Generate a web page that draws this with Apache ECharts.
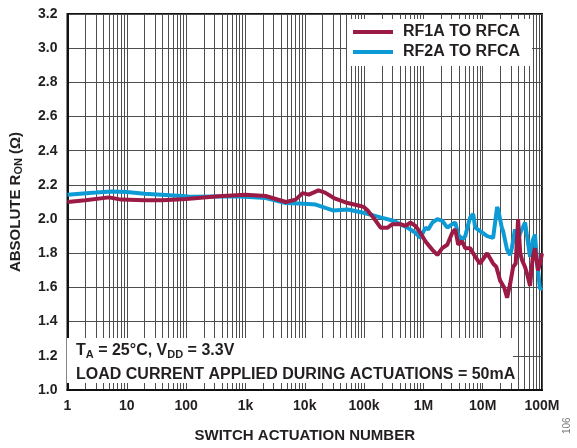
<!DOCTYPE html>
<html>
<head>
<meta charset="utf-8">
<script src="https://cdn.jsdelivr.net/npm/echarts@6/dist/echarts.min.js"></script>
<style>
html,body{margin:0;padding:0;background:#fff;}
#chart{width:577px;height:448px;}
</style>
</head>
<body>
<div id="chart"></div>
<script>
// ---- data ----
const xTickLabels = ['1', '10', '100', '1k', '10k', '100k', '1M', '10M', '100M'];
const seriesNames = ['RF1A TO RFCA', 'RF2A TO RFCA'];

const rf1Actuations = [1, 2, 5, 8, 20, 40, 100, 350, 1000, 2200, 4800, 7000, 9200, 11700, 17000, 22000, 31000, 53000, 87000, 100000, 115000, 150000, 190000, 250000, 300000, 410000, 500000, 600000, 734000, 890000, 1080000, 1420000, 1720000, 2080000, 2530000, 3070000, 3450000, 3870000, 4500000, 5080000, 6170000, 7480000, 9000000, 11900000, 15000000, 17000000, 19700000, 23000000, 25800000, 29000000, 32600000, 36000000, 39500000, 43000000, 46100000, 51800000, 56000000, 62900000, 70000000, 76200000, 85700000, 92500000, 100000000];
const rf1Ron = [2.10, 2.11, 2.127, 2.114, 2.11, 2.11, 2.117, 2.133, 2.143, 2.135, 2.10, 2.114, 2.152, 2.143, 2.168, 2.155, 2.123, 2.094, 2.077, 2.07, 2.05, 2.0, 1.95, 1.95, 1.97, 1.97, 1.96, 1.98, 1.96, 1.92, 1.87, 1.82, 1.79, 1.83, 1.85, 1.92, 1.94, 1.85, 1.87, 1.83, 1.83, 1.78, 1.74, 1.80, 1.74, 1.72, 1.64, 1.60, 1.54, 1.62, 1.72, 1.74, 2.0, 1.80, 1.76, 1.72, 1.68, 1.61, 1.78, 1.83, 1.70, 1.74, 1.80];

const rf2Actuations = [1, 3, 5.5, 10, 20, 100, 120, 700, 2200, 4800, 10000, 15300, 30700, 52800, 97800, 189000, 313000, 538000, 734000, 891000, 1080000, 1210000, 1420000, 1720000, 2080000, 2530000, 3070000, 3450000, 3870000, 4520000, 5080000, 5700000, 6170000, 6920000, 7480000, 9080000, 11900000, 15000000, 17500000, 18200000, 21000000, 22100000, 25800000, 29000000, 31000000, 35000000, 38000000, 42000000, 51800000, 55000000, 62900000, 69000000, 76200000, 82000000, 85700000, 92500000, 100000000];
const rf2Ron = [2.143, 2.155, 2.162, 2.158, 2.148, 2.133, 2.13, 2.133, 2.123, 2.094, 2.09, 2.085, 2.05, 2.056, 2.037, 2.01, 1.99, 1.95, 1.92, 1.89, 1.95, 1.94, 1.98, 2.0, 1.99, 1.95, 1.97, 1.98, 1.91, 1.88, 1.90, 1.97, 2.01, 2.03, 1.95, 1.93, 1.90, 1.89, 2.07, 2.056, 1.95, 1.93, 1.82, 1.79, 1.83, 1.94, 1.85, 1.91, 1.98, 1.97, 1.78, 1.87, 1.91, 1.76, 1.70, 1.59, 1.60];

// minor log gridlines (2..9 x 10^k)
const minorGrid = [];
for (let k = 0; k < 8; k++) for (let m = 2; m <= 9; m++) minorGrid.push(m * Math.pow(10, k));

const textColor = '#231f20';
const gridColor = '#4d4d4d';
const red = '#9b1b45';
const blue = '#0d9bd6';

const chart = echarts.init(document.getElementById('chart'), null, {renderer: 'canvas'});
chart.setOption({
  animation: false,
  textStyle: {fontFamily: 'Liberation Sans, Arial, sans-serif'},
  grid: {left: 66, right: 35, top: 14, bottom: 54, show: true, borderColor: '#111', borderWidth: 2},
  legend: {
    data: seriesNames,
    orient: 'vertical',
    left: 347, top: 19, z: 6,
    backgroundColor: '#fff',
    padding: [5, 12, 6, 6],
    itemGap: 4,
    itemWidth: 40, itemHeight: 4,
    icon: 'rect',
    textStyle: {fontSize: 16, fontWeight: 'bold', color: textColor, lineHeight: 16, padding: [0, 0, 0, 5]}
  },
  xAxis: {
    type: 'log', logBase: 10, min: 1, max: 1e8,
    name: 'SWITCH ACTUATION NUMBER', nameLocation: 'middle', nameGap: 38,
    nameTextStyle: {fontSize: 15, fontWeight: 'bold', color: textColor},
    axisLine: {show: true, lineStyle: {color: '#111', width: 2}},
    axisTick: {show: false},
    axisLabel: {fontSize: 14, fontWeight: 'bold', color: textColor, margin: 9,
      formatter: v => xTickLabels[Math.round(Math.log10(v))]},
    splitLine: {show: true, lineStyle: {color: gridColor, width: 1}},
    minorTick: {show: false}, minorSplitLine: {show: false}
  },
  yAxis: {
    type: 'value', min: 1.0, max: 3.2, interval: 0.2,
    name: '{n|ABSOLUTE R}{s|ON}{n| (Ω)}', nameLocation: 'middle', nameGap: 43, nameRotate: 90,
    nameTextStyle: {color: textColor, rich: {
      n: {fontSize: 15, fontWeight: 'bold', color: textColor, lineHeight: 18},
      s: {fontSize: 11, fontWeight: 'bold', color: textColor, lineHeight: 11, verticalAlign: 'bottom'}
    }},
    axisLine: {show: true, lineStyle: {color: '#111', width: 2}},
    axisTick: {show: false},
    axisLabel: {fontSize: 14, fontWeight: 'bold', color: textColor, margin: 10,
      formatter: v => v.toFixed(1)},
    splitLine: {show: true, lineStyle: {color: gridColor, width: 1}}
  },
  series: [
    {
      name: 'minor', type: 'line', data: [], z: 0, silent: true,
      markLine: {silent: true, z: 0, symbol: ['none', 'none'], label: {show: false},
        lineStyle: {color: gridColor, width: 1, type: 'solid'},
        emphasis: {disabled: true},
        data: minorGrid.map(v => ({xAxis: v}))}
    },
    {
      name: seriesNames[1], type: 'line', showSymbol: false, z: 2,
      lineStyle: {color: blue, width: 4}, itemStyle: {color: blue},
      data: rf2Actuations.map((x, i) => [x, rf2Ron[i]])
    },
    {
      name: seriesNames[0], type: 'line', showSymbol: false, z: 3,
      lineStyle: {color: red, width: 4}, itemStyle: {color: red},
      data: rf1Actuations.map((x, i) => [x, rf1Ron[i]])
    }
  ],
  graphic: [
    {type: 'rect', z: 5, shape: {x: 67, y: 338, width: 446, height: 45}, style: {fill: '#fff'}},
    {type: 'text', z: 6, left: 76, top: 343,
      style: {text: '{n|T}{s|A}{n| = 25°C, V}{s|DD}{n| = 3.3V}', rich: {
        n: {fontSize: 16, fontWeight: 'bold', fill: textColor, lineHeight: 19, fontFamily: 'Liberation Sans'},
        s: {fontSize: 11, fontWeight: 'bold', fill: textColor, lineHeight: 11, verticalAlign: 'bottom', fontFamily: 'Liberation Sans'}
      }}},
    {type: 'text', z: 6, left: 76, top: 367,
      style: {text: 'LOAD CURRENT APPLIED DURING ACTUATIONS = 50mA', fontSize: 16, fontWeight: 'bold', fill: textColor, fontFamily: 'Liberation Sans'}},
    {type: 'text', z: 6, x: 562, y: 434, rotation: Math.PI / 2,
      style: {text: '106', fontSize: 10, fill: '#777', fontFamily: 'Liberation Sans'}}
  ]
});
</script>
</body>
</html>
